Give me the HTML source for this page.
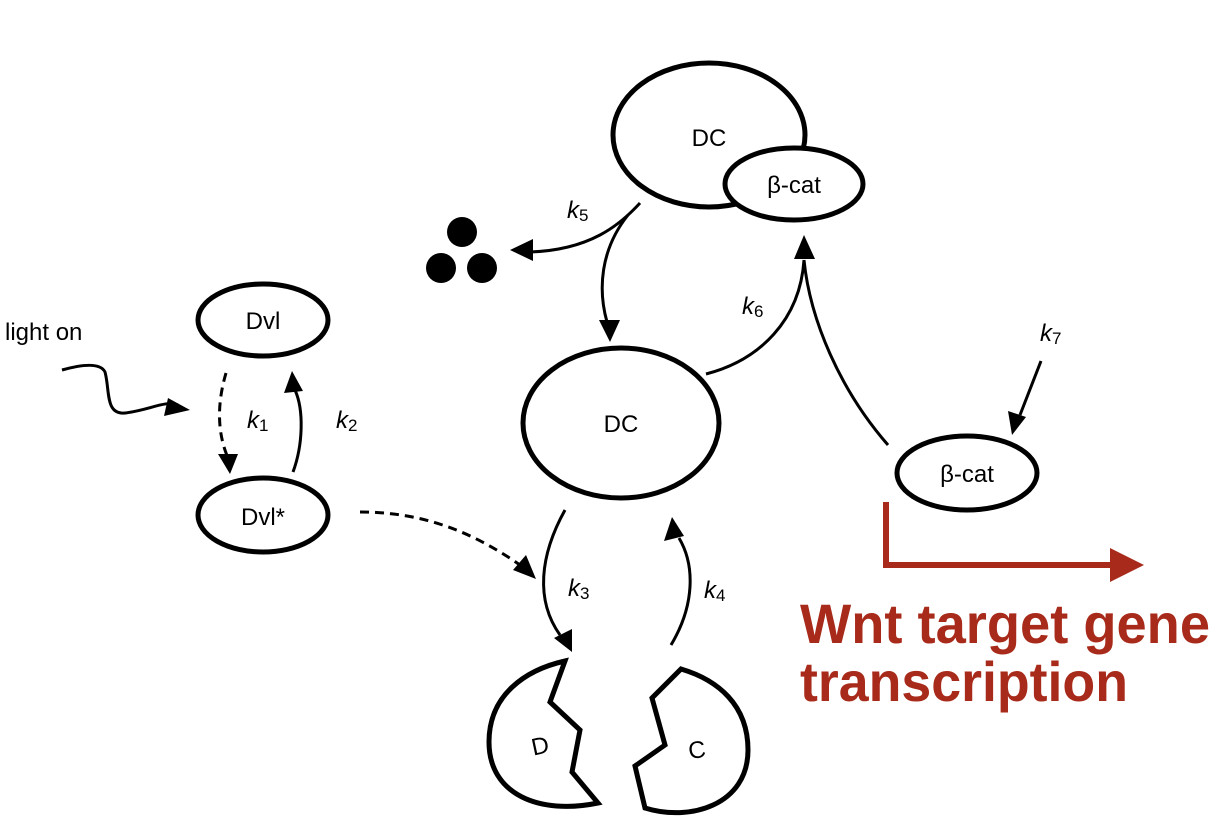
<!DOCTYPE html>
<html><head><meta charset="utf-8"><style>html,body{margin:0;padding:0;background:#fff;}svg{display:block}</style></head>
<body>
<svg width="1228" height="838" viewBox="0 0 1228 838" xmlns="http://www.w3.org/2000/svg" font-family="Liberation Sans, Helvetica, sans-serif">
<g fill="none" stroke="#000" stroke-width="5">
<ellipse cx="709" cy="135" rx="96" ry="72"/>
<ellipse cx="794" cy="184" rx="69" ry="36" fill="#fff"/>
<ellipse cx="263" cy="320" rx="65" ry="36"/>
<ellipse cx="263" cy="515" rx="65" ry="37"/>
<ellipse cx="621" cy="423" rx="98" ry="75"/>
<ellipse cx="967" cy="473" rx="70" ry="37"/>
<path d="M565,661 L550,702 L580,730 L572,772 L598,803 C540,815 489,795 489,742 C489,695 525,670 565,661 Z" stroke-linejoin="miter"/>
<path d="M681,669 L652,698 L665,745 L635,766 L645,808 C690,822 748,805 748,750 C748,705 718,680 681,669 Z" stroke-linejoin="miter"/>
</g>
<g fill="#000">
<circle cx="462" cy="232" r="15"/><circle cx="441" cy="268" r="15"/><circle cx="482" cy="268" r="15"/>
</g>
<g fill="none" stroke="#000" stroke-width="3">
<path d="M62,370 C80,365 100,362 105,372 C110,390 105,415 125,413 C150,410 165,400 178,405"/>
<path d="M226,373 C218,400 216,430 228,458" stroke-dasharray="9,6"/>
<path d="M293,472 C303,445 304,410 295,390"/>
<path d="M360,512 C420,512 470,530 520,565" stroke-dasharray="9,6"/>
<path d="M640,203 C620,225 590,250 530,252"/>
<path d="M628,215 C600,250 598,290 607,322"/>
<path d="M706,374 C760,360 800,320 804,260"/>
<path d="M888,445 C840,390 810,320 804,260"/>
<path d="M1041,361 L1020,415"/>
<path d="M565,510 C540,555 535,600 560,635"/>
<path d="M671,645 C695,605 695,565 679,538"/>
</g>
<g fill="#000">
<polygon points="190,410 168,398 164,416"/>
<polygon points="230,474 218,454 238,454"/>
<polygon points="292,371 284,393 303,391"/>
<polygon points="536,579 513,570 526,555"/>
<polygon points="510,250 533,239 533,261"/>
<polygon points="610,342 599,320 620,320"/>
<polygon points="804,235 794,259 815,259"/>
<polygon points="1012,435 1008,411 1026,417"/>
<polygon points="572,652 554,638 572,629"/>
<polygon points="672,517 664,541 684,536"/>
</g>
<g font-size="24" fill="#000" text-anchor="middle">
<text x="709" y="146">DC</text>
<text x="794" y="193">β-cat</text>
<text x="263" y="329">Dvl</text>
<text x="263" y="525">Dvl*</text>
<text x="621" y="432">DC</text>
<text x="967" y="482">β-cat</text>
<text x="540" y="754" transform="rotate(-12 540 745)">D</text>
<text x="697" y="758" transform="rotate(-8 697 750)">C</text>
</g>
<text x="5" y="340" font-size="24">light on</text>
<g font-size="24" font-style="italic">
<text x="247" y="428">k<tspan font-size="17" font-style="normal" dy="3">1</tspan></text>
<text x="336" y="428">k<tspan font-size="17" font-style="normal" dy="3">2</tspan></text>
<text x="568" y="596">k<tspan font-size="17" font-style="normal" dy="3">3</tspan></text>
<text x="704" y="598">k<tspan font-size="17" font-style="normal" dy="3">4</tspan></text>
<text x="567" y="218">k<tspan font-size="17" font-style="normal" dy="3">5</tspan></text>
<text x="742" y="314">k<tspan font-size="17" font-style="normal" dy="3">6</tspan></text>
<text x="1040" y="341">k<tspan font-size="17" font-style="normal" dy="3">7</tspan></text>
</g>
<path d="M886,502 L886,565 L1115,565" fill="none" stroke="#a82a1a" stroke-width="6"/>
<polygon points="1144,565 1110,548 1110,582" fill="#a82a1a"/>
<g font-size="56" font-weight="bold" fill="#a82a1a">
<text x="800" y="643" textLength="410" lengthAdjust="spacingAndGlyphs">Wnt target gene</text>
<text x="800" y="701" textLength="328" lengthAdjust="spacingAndGlyphs">transcription</text>
</g>
</svg>
</body></html>
